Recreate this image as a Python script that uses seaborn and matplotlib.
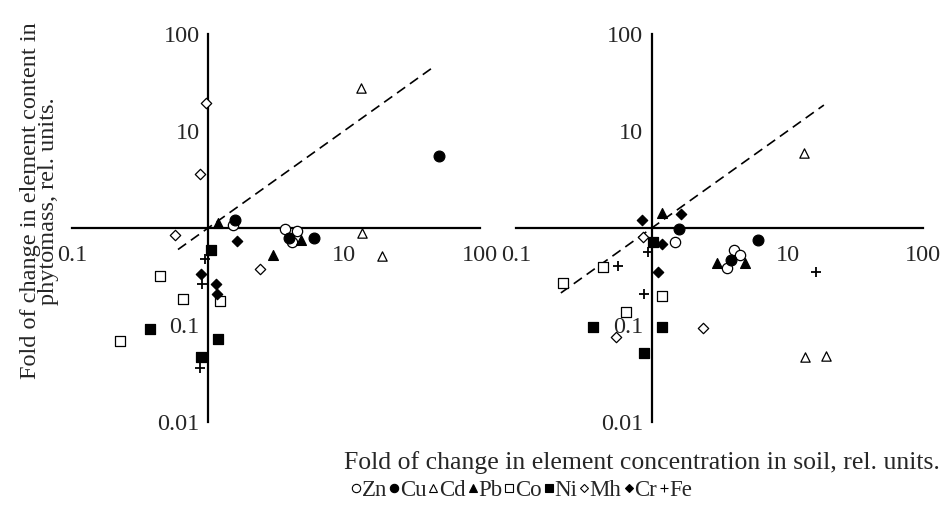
import numpy as np
import pandas as pd
import matplotlib
matplotlib.use('Agg')
import matplotlib.pyplot as plt
from matplotlib.lines import Line2D
import seaborn as sns

# element codes, as in the legend
elements = ['Zn', 'Cu', 'Cd', 'Pb', 'Co', 'Ni', 'Mh', 'Cr', 'Fe']

# left panel: fold change in soil (x) vs in phytomass (y)
left_x = {
    'Zn': [1.52, 3.68, 4.54, 4.12],
    'Cu': [1.58, 3.94, 6.05, 50.3],
    'Cd': [13.4, 13.7, 19.0],
    'Pb': [1.19, 4.83, 3.03],
    'Co': [0.443, 0.65, 1.22, 0.224],
    'Ni': [1.05, 0.374, 1.19, 0.89],
    'Mh': [0.967, 0.874, 0.567, 2.42],
    'Cr': [1.64, 0.88, 1.14, 1.16],
    'Fe': [0.95, 0.90, 0.87],
}
left_y = {
    'Zn': [1.08, 0.98, 0.93, 0.71],
    'Cu': [1.22, 0.78, 0.78, 5.56],
    'Cd': [27.8, 0.89, 0.52],
    'Pb': [1.12, 0.75, 0.53],
    'Co': [0.318, 0.185, 0.175, 0.069],
    'Ni': [0.60, 0.0916, 0.0717, 0.0465],
    'Mh': [19.6, 3.6, 0.85, 0.38],
    'Cr': [0.74, 0.336, 0.263, 0.209],
    'Fe': [0.475, 0.263, 0.036],
}

# right panel
right_x = {
    'Zn': [1.48, 4.02, 4.45, 3.60],
    'Cu': [1.59, 6.06, 3.80],
    'Cd': [13.2, 13.5, 19.1],
    'Pb': [1.19, 3.0, 4.82],
    'Co': [0.438, 0.22, 1.19, 0.649],
    'Ni': [1.02, 0.37, 1.18, 0.88],
    'Mh': [0.86, 0.548, 2.38],
    'Cr': [0.845, 1.64, 1.19, 1.12],
    'Fe': [0.935, 0.564, 0.874, 16.2],
}
right_y = {
    'Zn': [0.71, 0.59, 0.53, 0.39],
    'Cu': [0.98, 0.745, 0.47],
    'Cd': [5.93, 0.047, 0.048],
    'Pb': [1.43, 0.44, 0.435],
    'Co': [0.40, 0.271, 0.197, 0.135],
    'Ni': [0.72, 0.095, 0.095, 0.051],
    'Mh': [0.80, 0.076, 0.093],
    'Cr': [1.22, 1.40, 0.68, 0.35],
    'Fe': [0.57, 0.41, 0.209, 0.35],
}

# y = x reference line extent in each panel
left_diag = [0.6, 46]
right_diag = [0.214, 18.5]

x_ticks = [0.1, 10, 100]
x_ticklabels = ['0.1', '10', '100']
y_ticks = [0.01, 0.1, 10, 100]
y_ticklabels = ['0.01', '0.1', '10', '100']

# marker style per element: (marker, filled, size)
style = {
    'Zn': ('o', False, 55),
    'Cu': ('o', True, 60),
    'Cd': ('^', False, 45),
    'Pb': ('^', True, 50),
    'Co': ('s', False, 45),
    'Ni': ('s', True, 50),
    'Mh': ('D', False, 28),
    'Cr': ('D', True, 28),
    'Fe': ('+', True, 55),
}

sns.set_style('white')
plt.rcParams['font.family'] = ['Liberation Serif', 'DejaVu Serif']

fig = plt.figure(figsize=(9.43, 5.15), dpi=100)
ax_l = fig.add_axes([0.0767, 0.1806, 0.432, 0.7534])
ax_r = fig.add_axes([0.5472, 0.1806, 0.432, 0.7534])


def draw_panel(ax, xs, ys, diag):
    for el in elements:
        marker, filled, size = style[el]
        df = pd.DataFrame({'x': xs[el], 'y': ys[el]})
        if marker == '+':
            sns.scatterplot(data=df, x='x', y='y', ax=ax, marker='+', s=size,
                            color='black', linewidth=1.3, zorder=3)
        else:
            sns.scatterplot(data=df, x='x', y='y', ax=ax, marker=marker, s=size,
                            facecolor='black' if filled else 'white',
                            edgecolor='black', linewidth=0.9, zorder=3)
    sns.lineplot(x=diag, y=diag, ax=ax, color='black', linewidth=1.2,
                 dashes=(6, 3.5), zorder=2)

    ax.set_xscale('log')
    ax.set_yscale('log')
    ax.set_xlim(0.1, 100)
    ax.set_ylim(0.01, 100)

    # axes cross at (1, 1)
    ax.spines['left'].set_position(('data', 1))
    ax.spines['bottom'].set_position(('data', 1))
    ax.spines['top'].set_visible(False)
    ax.spines['right'].set_visible(False)
    for sp in ('left', 'bottom'):
        ax.spines[sp].set_linewidth(1.6)
        ax.spines[sp].set_color('black')

    ax.set_xticks(x_ticks)
    ax.set_xticklabels(x_ticklabels)
    ax.set_yticks(y_ticks)
    ax.set_yticklabels(y_ticklabels)
    ax.minorticks_off()
    ax.tick_params(axis='x', direction='in', length=7, width=1.6, pad=12,
                   labelsize=17.5, color='black')
    ax.tick_params(axis='y', direction='in', length=7, width=1.6, pad=6,
                   labelsize=17.5, color='black')
    ax.set_xlabel('')
    ax.set_ylabel('')
    ax.patch.set_alpha(0)


draw_panel(ax_l, left_x, left_y, left_diag)
draw_panel(ax_r, right_x, right_y, right_diag)

fig.text(0.042, 0.61, 'Fold of change in element content in\nphytomass, rel. units.',
         rotation=90, ha='center', va='center', fontsize=17.5, linespacing=0.85)
fig.text(0.997, 0.102, 'Fold of change in element concentration in soil, rel. units.',
         ha='right', va='center', fontsize=18.5)

handles = []
for el in elements:
    marker, filled, size = style[el]
    handles.append(Line2D([], [], linestyle='none', marker=marker,
                          markersize=6 if marker != 'D' else 4.5,
                          markerfacecolor='black' if filled else 'white',
                          markeredgecolor='black', markeredgewidth=0.8,
                          color='black'))
fig.legend(handles, elements, loc='center', bbox_to_anchor=(0.553, 0.048),
           ncol=9, frameon=False, fontsize=16.5, handlelength=0.5,
           handletextpad=0.0, columnspacing=0.05, borderpad=0)

fig.savefig('out.png', dpi=100)
